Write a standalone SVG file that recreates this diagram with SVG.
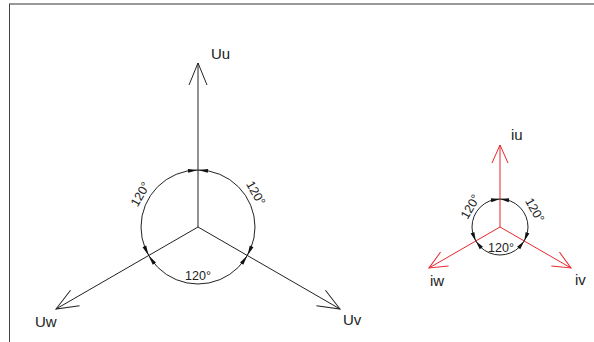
<svg xmlns="http://www.w3.org/2000/svg" width="594" height="342" viewBox="0 0 594 342">
<style>
.ln{stroke:#222;stroke-width:1;fill:none}
.red{stroke:#e8262e;stroke-width:1;fill:none}
.lbl{font-family:"Liberation Sans",Arial,sans-serif;font-size:15px;fill:#222}
.ang{font-family:"Liberation Sans",Arial,sans-serif;font-size:12.5px;fill:#222;text-anchor:middle}
</style>
<defs>
<marker id="openK" markerUnits="userSpaceOnUse" markerWidth="30" markerHeight="30" viewBox="-25 -12 30 24" refX="0" refY="0" orient="auto">
<path d="M-22,-9 L0,0 L-22,9" fill="none" stroke="#222" stroke-width="1"/>
</marker>
<marker id="openR" markerUnits="userSpaceOnUse" markerWidth="30" markerHeight="30" viewBox="-25 -12 30 24" refX="0" refY="0" orient="auto">
<path d="M-18,-8 L0,0 L-18,8" fill="none" stroke="#e8262e" stroke-width="1"/>
</marker>
<path id="ah" d="M0,0 L-10,-2 L-10,2 Z" fill="#111"/>
<path id="ahs" d="M0,0 L-9,-2 L-9,2 Z" fill="#111"/>
</defs>
<g id="frame">
<line x1="9" y1="4" x2="594" y2="4" stroke="#999" stroke-width="2"/>
<line x1="9.5" y1="4" x2="9.5" y2="342" stroke="#444" stroke-width="1"/>
</g>
<g id="connectors">
<line class="ln" x1="198" y1="227" x2="198" y2="63" marker-end="url(#openK)"/>
<line class="ln" x1="198" y1="227" x2="340" y2="309" marker-end="url(#openK)"/>
<line class="ln" x1="198" y1="227" x2="56" y2="309" marker-end="url(#openK)"/>
<line class="red" x1="500" y1="227" x2="500" y2="145" marker-end="url(#openR)"/>
<line class="red" x1="500" y1="227" x2="571" y2="268" marker-end="url(#openR)"/>
<line class="red" x1="500" y1="227" x2="429" y2="268" marker-end="url(#openR)"/>
</g>
<g id="voltage-angles">
<circle class="ln" cx="198" cy="227" r="57"/>
<use href="#ah" transform="translate(198,170) rotate(-5)"/>
<use href="#ah" transform="translate(198,170) rotate(185)"/>
<use href="#ah" transform="translate(247.4,255.5) rotate(115)"/>
<use href="#ah" transform="translate(247.4,255.5) rotate(-55)"/>
<use href="#ah" transform="translate(148.6,255.5) rotate(235)"/>
<use href="#ah" transform="translate(148.6,255.5) rotate(65)"/>
<text class="ang" transform="translate(140,194) rotate(-60)" y="4.5">120°</text>
<text class="ang" transform="translate(256,193) rotate(60)" y="4.5">120°</text>
<text class="ang" x="198" y="280">120°</text>
</g>
<g id="current-angles">
<circle class="ln" cx="500" cy="227" r="28"/>
<use href="#ahs" transform="translate(500,199) rotate(-8)"/>
<use href="#ahs" transform="translate(500,199) rotate(188)"/>
<use href="#ahs" transform="translate(524.2,241) rotate(112)"/>
<use href="#ahs" transform="translate(524.2,241) rotate(-52)"/>
<use href="#ahs" transform="translate(475.8,241) rotate(232)"/>
<use href="#ahs" transform="translate(475.8,241) rotate(68)"/>
<text class="ang" transform="translate(470,206.5) rotate(-60)" y="4.5">120°</text>
<text class="ang" transform="translate(535,210) rotate(60)" y="4.5">120°</text>
<text class="ang" x="501" y="251.5">120°</text>
</g>
<g id="Uu"><text class="lbl" x="211" y="59">Uu</text></g>
<g id="Uv"><text class="lbl" x="343" y="325">Uv</text></g>
<g id="Uw"><text class="lbl" x="35" y="327">Uw</text></g>
<g id="iu"><text class="lbl" x="511" y="140">iu</text></g>
<g id="iv"><text class="lbl" x="575" y="285">iv</text></g>
<g id="iw"><text class="lbl" x="430" y="286">iw</text></g>
</svg>
